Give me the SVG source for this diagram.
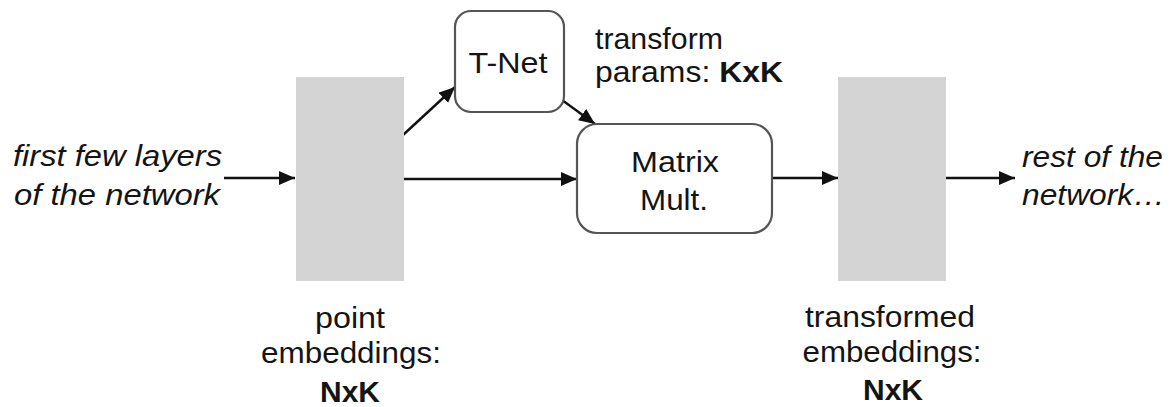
<svg xmlns="http://www.w3.org/2000/svg" width="1170" height="407" viewBox="0 0 1170 407">
  <style>
    text { font-family: "Liberation Sans", Arial, sans-serif; font-size: 29px; fill: #141414; }
    .it { font-style: italic; }
    .b { font-weight: bold; }
    .mid { text-anchor: middle; }
    .emb { fill: #d4d4d4; stroke: none; }
    .box { fill: #ffffff; stroke: #555555; stroke-width: 2.2; }
    .edge { fill: none; stroke: #111111; stroke-width: 2.4; marker-end: url(#head); }
  </style>
  <defs>
    <marker id="head" markerUnits="userSpaceOnUse" markerWidth="16" markerHeight="14" viewBox="0 0 16 14" refX="16" refY="7" orient="auto">
      <path d="M0,0 L16,7 L0,14 z" fill="#111111"/>
    </marker>
  </defs>
  <rect width="1170" height="407" fill="#ffffff"/>

  <!-- connectors -->
  <g id="connectors">
    <line class="edge" x1="224" y1="178" x2="295" y2="178"/>
    <line class="edge" x1="404" y1="179" x2="577" y2="179"/>
    <line class="edge" x1="403" y1="135" x2="455" y2="87"/>
    <line class="edge" x1="562" y1="100" x2="595" y2="124"/>
    <line class="edge" x1="772" y1="178" x2="838" y2="178"/>
    <line class="edge" x1="944" y1="178" x2="1015" y2="178"/>
  </g>

  <!-- input label -->
  <g id="input">
    <text class="it" x="13" y="166" textLength="209" lengthAdjust="spacingAndGlyphs">first few layers</text>
    <text class="it" x="14" y="205" textLength="206" lengthAdjust="spacingAndGlyphs">of the network</text>
  </g>

  <!-- point embeddings -->
  <g id="point-embeddings">
    <rect class="emb" x="296" y="77" width="108" height="204"/>
    <text class="mid" x="350" y="328" textLength="70" lengthAdjust="spacingAndGlyphs">point</text>
    <text class="mid" x="351" y="363" textLength="180" lengthAdjust="spacingAndGlyphs">embeddings:</text>
    <text class="mid b" x="350" y="402" textLength="60" lengthAdjust="spacingAndGlyphs">NxK</text>
  </g>

  <!-- T-Net -->
  <g id="tnet">
    <rect class="box" x="455" y="11" width="109" height="101" rx="16" ry="16"/>
    <text class="mid" x="508" y="73" textLength="79" lengthAdjust="spacingAndGlyphs">T-Net</text>
  </g>

  <!-- transform params label -->
  <g id="transform-params">
    <text x="595" y="49" textLength="128" lengthAdjust="spacingAndGlyphs">transform</text>
    <text x="595" y="82" textLength="188" lengthAdjust="spacingAndGlyphs">params: <tspan class="b">KxK</tspan></text>
  </g>

  <!-- Matrix Mult -->
  <g id="matrix-mult">
    <rect class="box" x="577" y="124" width="195" height="109" rx="20" ry="20"/>
    <text class="mid" x="675" y="172" textLength="88" lengthAdjust="spacingAndGlyphs">Matrix</text>
    <text class="mid" x="674" y="210" textLength="68" lengthAdjust="spacingAndGlyphs">Mult.</text>
  </g>

  <!-- transformed embeddings -->
  <g id="transformed-embeddings">
    <rect class="emb" x="838" y="77" width="108" height="204"/>
    <text class="mid" x="890" y="327" textLength="170" lengthAdjust="spacingAndGlyphs">transformed</text>
    <text class="mid" x="892" y="362" textLength="179" lengthAdjust="spacingAndGlyphs">embeddings:</text>
    <text class="mid b" x="893" y="400" textLength="60" lengthAdjust="spacingAndGlyphs">NxK</text>
  </g>

  <!-- output label -->
  <g id="output">
    <text class="it" x="1022" y="167" textLength="141" lengthAdjust="spacingAndGlyphs">rest of the</text>
    <text class="it" x="1022" y="205" textLength="143" lengthAdjust="spacingAndGlyphs">network…</text>
  </g>
</svg>
